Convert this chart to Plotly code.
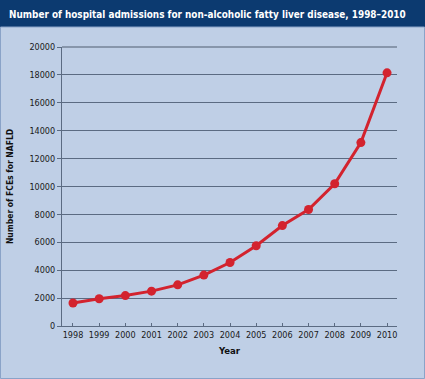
import plotly.graph_objects as go

years = [1998, 1999, 2000, 2001, 2002, 2003, 2004, 2005, 2006, 2007, 2008, 2009, 2010]
admissions = [1650, 1950, 2180, 2500, 2950, 3650, 4550, 5750, 7200, 8350, 10200, 13150, 18150]
y_ticks = [0, 2000, 4000, 6000, 8000, 10000, 12000, 14000, 16000, 18000, 20000]

title_text = "Number of hospital admissions for non-alcoholic fatty liver disease, 1998\u20132010"
bg = "#bfcfe6"
navy = "#0c3a70"
red = "#d3232e"
grid = "#5b6b82"

W, H = 425, 379
ml, mr, mt, mb = 62, 28, 47, 53
pw, ph = W - ml - mr, H - mt - mb

def px_x(x):
    return (x - ml) / pw

def px_y(y):
    return 1 + (mt - y) / ph

fig = go.Figure()
fig.add_trace(go.Scatter(
    x=years, y=admissions, mode="lines+markers",
    line=dict(color=red, width=3),
    marker=dict(color=red, size=9),
    showlegend=False, cliponaxis=False,
))

tickfont = dict(family="DejaVu Sans Condensed", size=9, color="#1a1a1a")
boldfont = "DejaVu Sans Condensed"

fig.update_layout(
    width=W, height=H,
    margin=dict(l=ml, r=mr, t=mt, b=mb, autoexpand=False),
    paper_bgcolor=bg, plot_bgcolor=bg,
    font=dict(family="DejaVu Sans", size=9, color="#1a1a1a"),
    xaxis=dict(
        range=[1997.58, 2010.38], tickmode="array", tickvals=years,
        ticktext=[str(y) for y in years], automargin=False,
        showgrid=False, zeroline=False,
        showline=True, linecolor=grid, linewidth=1,
        ticks="inside", ticklen=3, tickcolor=grid,
        tickfont=tickfont,
        title=dict(text="<b>Year</b>", font=dict(family=boldfont, size=9.5, color="#111"), standoff=8),
    ),
    yaxis=dict(
        range=[0, 20000], tickmode="array", tickvals=y_ticks,
        ticktext=[str(v) for v in y_ticks], automargin=False,
        showgrid=True, gridcolor=grid, gridwidth=1, zeroline=False,
        showline=True, linecolor=grid, linewidth=1,
        ticks="outside", ticklen=4, tickcolor=grid,
        tickfont=tickfont,
        title=dict(text="<b>Number of FCEs for NAFLD</b>", font=dict(family=boldfont, size=8.5, color="#111"), standoff=14),
    ),
    shapes=[
        dict(type="rect", xref="paper", yref="paper",
             x0=px_x(0), x1=px_x(W), y0=px_y(27), y1=px_y(0),
             fillcolor=navy, line=dict(width=0), layer="above"),
        dict(type="line", xref="paper", yref="paper",
             x0=0, x1=px_x(397), y0=1, y1=1,
             line=dict(color="#8796ab", width=2)),
        dict(type="rect", xref="paper", yref="paper",
             x0=px_x(0.5), x1=px_x(W - 0.5), y0=px_y(H - 0.5), y1=px_y(27),
             line=dict(color="#8aa3c8", width=1), fillcolor="rgba(0,0,0,0)"),
    ],
    annotations=[
        dict(text="<b>" + title_text + "</b>", xref="paper", yref="paper",
             x=px_x(7), y=px_y(14), xanchor="left", yanchor="middle",
             showarrow=False,
             font=dict(family=boldfont, size=9.9, color="white")),
    ],
)

fig.write_html("out.html", config={"displayModeBar": False},
               post_script="document.body.style.margin='0';document.body.style.overflow='hidden';")
